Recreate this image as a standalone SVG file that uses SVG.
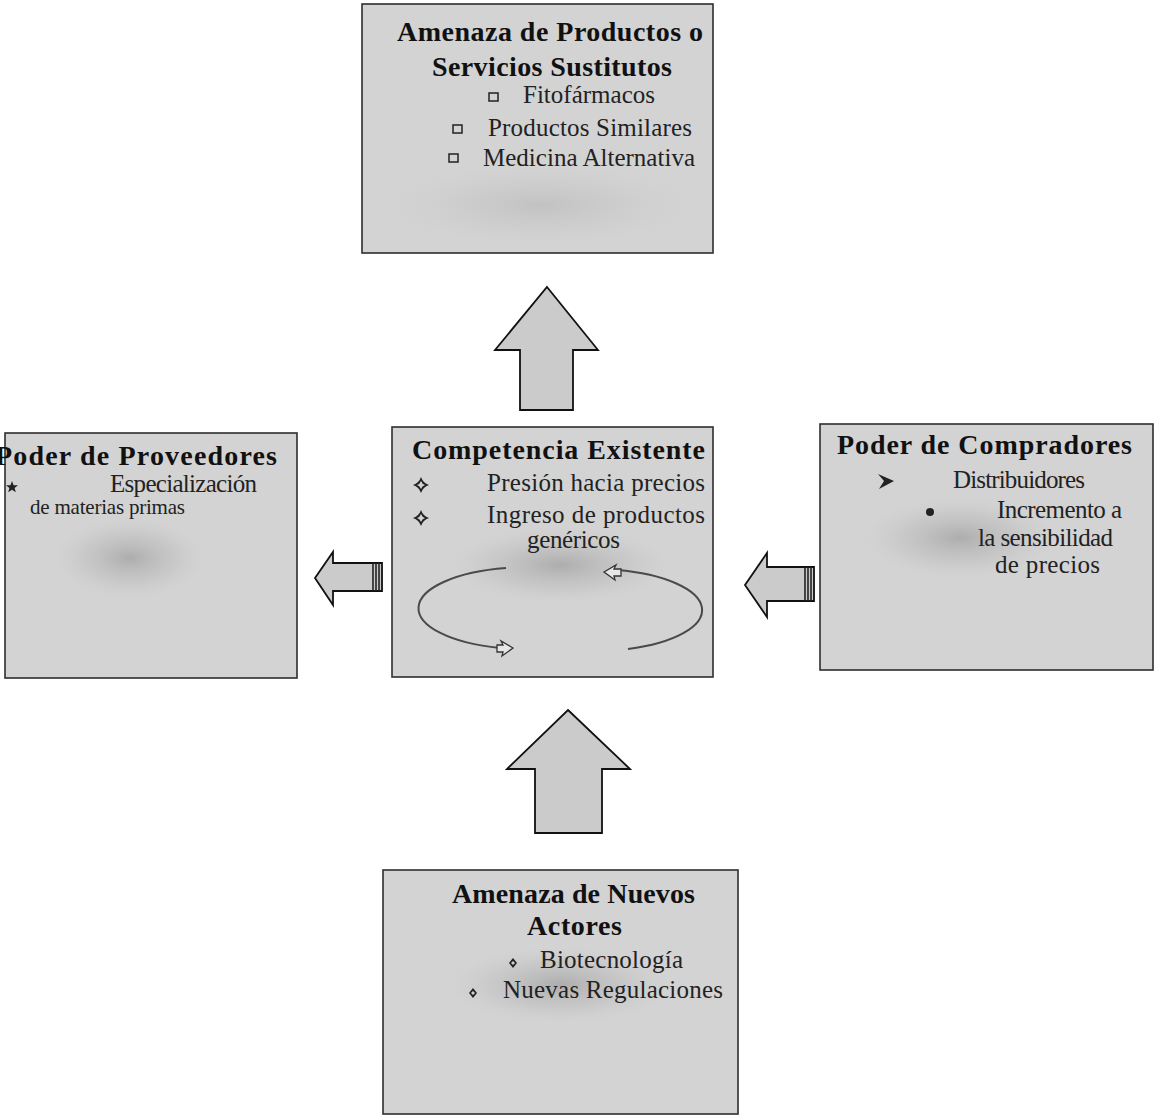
<svg xmlns="http://www.w3.org/2000/svg" width="1160" height="1117" viewBox="0 0 1160 1117">
  <style>
    .box { fill: #d3d3d3; stroke: #2e2e2e; stroke-width: 1.6; }
    .title { font-family: "Liberation Serif", "Times New Roman", serif; font-weight: bold; font-size: 28px; fill: #111; }
    .body { font-family: "Liberation Serif", "Times New Roman", serif; font-size: 25px; fill: #222; }
    .small { font-size: 21px; }
    .blob { fill: url(#blob); }
    .faint { opacity: 0.45; }
    .block { fill: #cbcbcb; stroke: #111; stroke-width: 1.8; stroke-linejoin: miter; }
    .stripe { stroke: #222; stroke-width: 1.6; }
    .sq { fill: none; stroke: #222; stroke-width: 1.5; }
    .loop { fill: none; stroke: #4a4a4a; stroke-width: 2; }
    .loophead { fill: #e6e6e6; stroke: #333; stroke-width: 1.3; stroke-linejoin: miter; }
    .mark { fill: #222; }
  </style>
  <defs>
    <radialGradient id="blob" cx="0.5" cy="0.5" r="0.5">
      <stop offset="0" stop-color="#8e8e8e" stop-opacity="0.55"/>
      <stop offset="0.6" stop-color="#a8a8a8" stop-opacity="0.25"/>
      <stop offset="1" stop-color="#c0c0c0" stop-opacity="0"/>
    </radialGradient>
  </defs>

  <rect width="1160" height="1117" fill="#ffffff"/>

  <!-- Threat of substitutes -->
  <g id="node-sustitutos">
    <rect class="box" x="362" y="4" width="351" height="249"/>
    <ellipse class="blob faint" cx="540" cy="205" rx="150" ry="40"/>
    <text class="title" x="397" y="41" textLength="306">Amenaza de Productos o</text>
    <text class="title" x="432" y="76" textLength="240">Servicios Sustitutos</text>
    <rect class="sq" x="489" y="93" width="9" height="8"/>
    <text class="body" x="523" y="103" textLength="132">Fitofármacos</text>
    <rect class="sq" x="453" y="125" width="9" height="8"/>
    <text class="body" x="488" y="136" textLength="204">Productos Similares</text>
    <rect class="sq" x="449" y="154" width="9" height="8"/>
    <text class="body" x="483" y="166" textLength="212">Medicina Alternativa</text>
  </g>

  <!-- Supplier power -->
  <g id="node-proveedores">
    <rect class="box" x="5" y="433" width="292" height="245"/>
    <ellipse class="blob" cx="130" cy="558" rx="75" ry="40"/>
    <text class="title" x="277" y="465" text-anchor="end" textLength="282">Poder de Proveedores</text>
    <polygon class="mark" points="12,481 13.6,485.2 18,485.3 14.6,488 15.8,492.3 12,489.8 8.2,492.3 9.4,488 6,485.3 10.4,485.2"/>
    <text class="body" x="110" y="492" textLength="147">Especialización</text>
    <text class="body small" x="30" y="514" textLength="155">de materias primas</text>
  </g>

  <!-- Existing rivalry -->
  <g id="node-competencia">
    <rect class="box" x="392" y="427" width="321" height="250"/>
    <ellipse class="blob" cx="560" cy="565" rx="110" ry="38"/>
    <text class="title" x="412" y="459" textLength="293">Competencia Existente</text>
    <path class="mark" fill-rule="evenodd" d="M421,477 Q423,483 429,485 Q423,487 421,493 Q419,487 413,485 Q419,483 421,477 Z M421,481 Q422,484 425,485 Q422,486 421,489 Q420,486 417,485 Q420,484 421,481 Z"/>
    <text class="body" x="487" y="491" textLength="218">Presión hacia precios</text>
    <path class="mark" fill-rule="evenodd" d="M421,510 Q423,516 429,518 Q423,520 421,526 Q419,520 413,518 Q419,516 421,510 Z M421,514 Q422,517 425,518 Q422,519 421,522 Q420,519 417,518 Q420,517 421,514 Z"/>
    <text class="body" x="487" y="523" textLength="218">Ingreso de productos</text>
    <text class="body" x="527" y="548" textLength="93">genéricos</text>
    <!-- cycle of two curved arrows -->
    <path class="loop" d="M506 568 A108 41 0 0 0 500 648"/>
    <polygon class="loophead" points="513,648 501,641 503,645 497,645 497,652 503,652 502,656"/>
    <path class="loop" d="M628 649 A108 41 0 0 0 617 570"/>
    <polygon class="loophead" points="604,572 616,565 614,569 621,569 621,576 614,576 615,580"/>
  </g>

  <!-- Buyer power -->
  <g id="node-compradores">
    <rect class="box" x="820" y="424" width="333" height="246"/>
    <ellipse class="blob" cx="960" cy="538" rx="95" ry="40"/>
    <text class="title" x="837" y="454" textLength="295">Poder de Compradores</text>
    <path class="mark" d="M878,474 L894,481 L879,489 L884,481 Z"/>
    <text class="body" x="953" y="488" textLength="132">Distribuidores</text>
    <circle class="mark" cx="930" cy="512" r="4"/>
    <text class="body" x="997" y="518" textLength="125">Incremento a</text>
    <text class="body" x="978" y="546" textLength="135">la sensibilidad</text>
    <text class="body" x="995" y="573" textLength="105">de precios</text>
  </g>

  <!-- Threat of new entrants -->
  <g id="node-nuevos">
    <rect class="box" x="383" y="870" width="355" height="244"/>
    <ellipse class="blob" cx="560" cy="985" rx="110" ry="38"/>
    <text class="title" x="452" y="903" textLength="243">Amenaza de Nuevos</text>
    <text class="title" x="527" y="935" textLength="95">Actores</text>
    <path class="mark" fill-rule="evenodd" d="M513,958 L517,963 L513,968 L509,963 Z M513,961 L515,963 L513,965 L511,963 Z"/>
    <text class="body" x="540" y="968" textLength="143">Biotecnología</text>
    <path class="mark" fill-rule="evenodd" d="M473,988 L477,993 L473,998 L469,993 Z M473,991 L475,993 L473,995 L471,993 Z"/>
    <text class="body" x="503" y="998" textLength="220">Nuevas Regulaciones</text>
  </g>

  <!-- Block arrows between the forces -->
  <g id="connectors">
    <polygon class="block" points="547,287 598,350 573,350 573,410 520,410 520,350 495,350"/>
    <polygon class="block" points="568,710 630,769 602,769 602,833 535,833 535,769 507,769"/>
    <polygon class="block" points="315,578 333,552 333,563 382,563 382,591 333,591 333,605"/>
    <line class="stripe" x1="373" y1="563" x2="373" y2="591"/>
    <line class="stripe" x1="376" y1="563" x2="376" y2="591"/>
    <line class="stripe" x1="379" y1="563" x2="379" y2="591"/>
    <polygon class="block" points="745,585 767,553 767,567 814,567 814,601 767,601 767,617"/>
    <line class="stripe" x1="805" y1="567" x2="805" y2="601"/>
    <line class="stripe" x1="808" y1="567" x2="808" y2="601"/>
    <line class="stripe" x1="811" y1="567" x2="811" y2="601"/>
  </g>
</svg>
